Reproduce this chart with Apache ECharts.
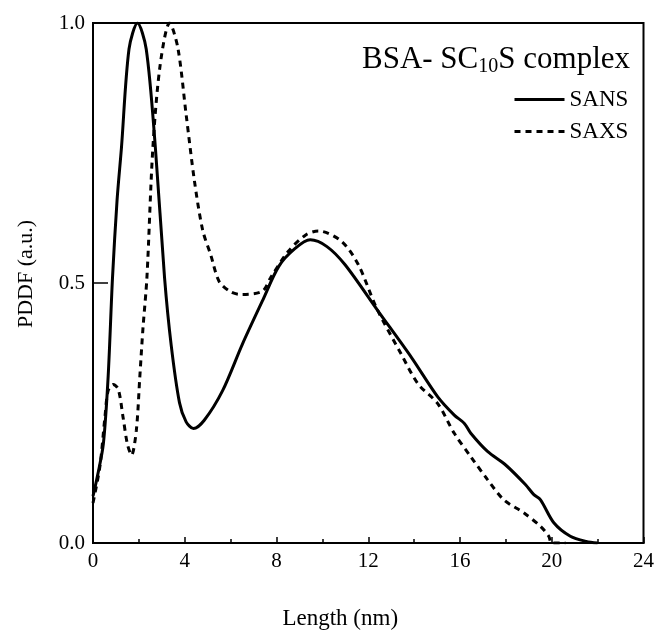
<!DOCTYPE html>
<html>
<head>
<meta charset="utf-8">
<script src="https://cdn.jsdelivr.net/npm/echarts@6/dist/echarts.min.js"></script>
<style>
    html, body { margin: 0; padding: 0; background: #fff; }
    #chart { width: 657px; height: 635px; }
</style>
</head>
<body>
<div id="chart"></div>
<script>
// PDDF curves, [length nm, PDDF]
var sansLength = [0, 0.2, 0.45, 0.66, 0.85, 1.05, 1.24, 1.57, 1.94, 2.32, 2.72, 3.12, 3.41, 3.77, 4.06, 4.38, 4.85, 5.65, 6.51, 7.38, 8.1, 8.8, 9.47, 10.2, 10.99, 12.43, 13.88, 15.03, 15.75, 16.19, 16.47, 17.2, 17.99, 18.86, 19.22, 19.51, 20.09, 20.81, 21.5, 22.0];
var sansValue = [0.09, 0.13, 0.19, 0.32, 0.51, 0.66, 0.76, 0.95, 1.0, 0.95, 0.76, 0.51, 0.38, 0.27, 0.233, 0.22, 0.236, 0.293, 0.382, 0.465, 0.532, 0.566, 0.583, 0.57, 0.535, 0.446, 0.357, 0.281, 0.246, 0.23, 0.211, 0.176, 0.15, 0.112, 0.093, 0.083, 0.039, 0.013, 0.003, 0.0];

var saxsLength = [0, 0.3, 0.52, 0.66, 0.88, 1.1, 1.31, 1.5, 1.68, 1.89, 2.04, 2.18, 2.35, 2.61, 2.93, 3.34, 3.7, 4.06, 4.42, 4.78, 5.14, 5.5, 6.0, 6.44, 7.38, 7.74, 8.5, 9.26, 9.83, 10.84, 11.57, 12.36, 13.44, 14.17, 15.03, 15.75, 16.47, 17.2, 17.91, 18.78, 19.51, 19.87, 20.0, 20.6];
var saxsValue = [0.077, 0.147, 0.242, 0.293, 0.305, 0.296, 0.242, 0.19, 0.169, 0.217, 0.319, 0.414, 0.51, 0.76, 0.92, 1.0, 0.952, 0.824, 0.697, 0.602, 0.553, 0.503, 0.483, 0.478, 0.484, 0.51, 0.56, 0.592, 0.6, 0.58, 0.535, 0.452, 0.363, 0.306, 0.268, 0.211, 0.166, 0.122, 0.083, 0.058, 0.032, 0.013, 0.0, 0.0];

var xTicks = [0, 4, 8, 12, 16, 20, 24];
var yTicks = [0.0, 0.5, 1.0];

var font = 'Liberation Serif';

var pairs = function(xs, ys) {
    var out = [];
    for (var i = 0; i < xs.length; i++) {
        out.push([xs[i], ys[i]]);
    }
    return out;
};

var chart = echarts.init(document.getElementById('chart'));
var option = {
    animation: false,
    backgroundColor: '#fff',
    textStyle: { fontFamily: font, color: '#000' },
    title: {
        text: '{a|BSA- SC}{b|10}{a|S complex}',
        right: 22,
        top: 38,
        textStyle: {
            fontWeight: 'normal',
            rich: {
                a: { fontFamily: font, fontSize: 31, fontWeight: 'normal', color: '#000', lineHeight: 34 },
                b: { fontFamily: font, fontSize: 20, fontWeight: 'normal', color: '#000', lineHeight: 10, verticalAlign: 'bottom' }
            }
        }
    },
    legend: {
        orient: 'vertical',
        left: 508,
        top: 83,
        itemWidth: 50,
        itemHeight: 14,
        itemGap: 9,
        itemStyle: { opacity: 0 },
        lineStyle: { width: 3 },
        textStyle: { fontFamily: font, fontSize: 23, color: '#000' },
        data: ['SANS', 'SAXS']
    },
    grid: {
        left: 93,
        right: 10,
        top: 23,
        bottom: 88,
        show: true,
        borderColor: '#000',
        borderWidth: 2
    },
    xAxis: {
        type: 'value',
        min: xTicks[0],
        max: xTicks[xTicks.length - 1],
        interval: 4,
        name: 'Length (nm)',
        nameLocation: 'middle',
        nameGap: 64,
        nameTextStyle: { fontFamily: font, fontSize: 23, color: '#000', padding: [0, 56, 0, 0] },
        axisLine: { lineStyle: { color: '#000', width: 2 } },
        axisTick: { inside: true, length: 6, lineStyle: { color: '#000', width: 1.5 } },
        minorTick: { show: true, splitNumber: 2, length: 4, lineStyle: { color: '#000', width: 1.5 } },
        splitLine: { show: false },
        axisLabel: { fontFamily: font, fontSize: 21, color: '#000', margin: 8 }
    },
    yAxis: {
        type: 'value',
        min: yTicks[0],
        max: yTicks[yTicks.length - 1],
        interval: 0.5,
        name: 'PDDF (a.u.)',
        nameLocation: 'middle',
        nameGap: 56,
        nameTextStyle: { fontFamily: font, fontSize: 22, color: '#000', padding: [0, 0, 0, 18] },
        axisLine: { lineStyle: { color: '#000', width: 2 } },
        axisTick: { inside: true, length: 15, lineStyle: { color: '#000', width: 1.5 } },
        splitLine: { show: false },
        axisLabel: {
            fontFamily: font,
            fontSize: 21,
            color: '#000',
            margin: 8,
            formatter: function(v) { return v.toFixed(1); }
        }
    },
    series: [{
        name: 'SANS',
        type: 'line',
        smooth: 0.3,
        symbol: 'none',
        lineStyle: { color: '#000', width: 3 },
        itemStyle: { color: '#000' },
        data: pairs(sansLength, sansValue)
    }, {
        name: 'SAXS',
        type: 'line',
        smooth: 0.3,
        symbol: 'none',
        lineStyle: { color: '#000', width: 3, type: [6, 5] },
        itemStyle: { color: '#000' },
        data: pairs(saxsLength, saxsValue)
    }]
};
chart.setOption(option);
</script>
</body>
</html>
